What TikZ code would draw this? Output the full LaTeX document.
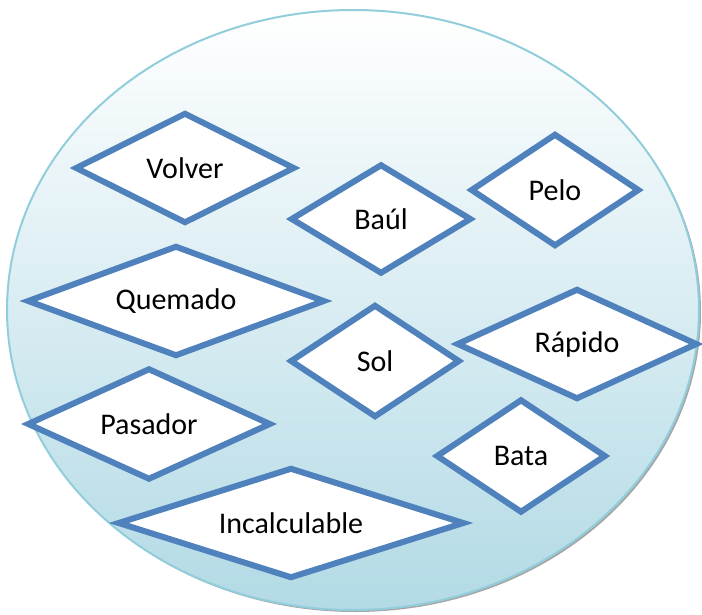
\documentclass[tikz,border=0pt]{standalone}
\usepackage{fontspec}
\setmainfont{Carlito}
\usetikzlibrary{shapes.geometric}

\definecolor{rim}{RGB}{146,205,220}
\definecolor{seabottom}{RGB}{178,218,229}
\definecolor{wordline}{RGB}{79,129,189}

\begin{document}
\begin{tikzpicture}[x=1pt, y=-1pt,
		word/.style={diamond, aspect=3, draw=wordline, line width=6pt, fill=white, inner sep=0pt, font=\fontsize{30}{33}\selectfont},
		pool/.style={draw=rim, line width=2pt, top color=white, bottom color=seabottom}]
		
		\useasboundingbox (0,0) rectangle (702,614);
		
		% background ellipse with a thin shadow
		\fill [black!35] (355,312) ellipse [x radius=346, y radius=300];
		\path [pool] (353,310) ellipse [x radius=346, y radius=300];
		
		\node[word, minimum width=220pt, minimum height=111pt] at (185,168) (volver) {Volver};
		\node[word, minimum width=181pt, minimum height=110pt] at (381,219) (baul) {Baúl};
		\node[word, minimum width=169pt, minimum height=113pt] at (555,190) (pelo) {Pelo};
		\node[word, minimum width=298pt, minimum height=111pt] at (176,301) (quemado) {Quemado};
		\node[word, minimum width=170pt, minimum height=113pt] at (375,361) (sol) {Sol};
		\node[word, minimum width=241pt, minimum height=111pt] at (577,344) (rapido) {Rápido};
		\node[word, minimum width=244pt, minimum height=112pt] at (149,424) (pasador) {Pasador};
		\node[word, minimum width=170pt, minimum height=114pt] at (521,456) (bata) {Bata};
		\node[word, minimum width=347pt, minimum height=111pt] at (291,523) (incalc) {Incalculable};
	\end{tikzpicture}
\end{document}
